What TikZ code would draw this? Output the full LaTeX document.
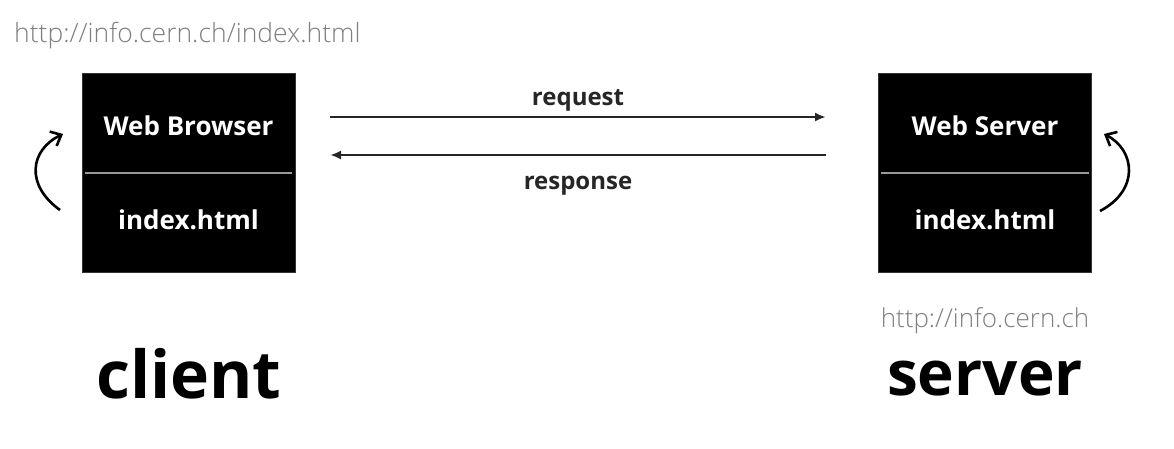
\documentclass[tikz,border=0pt]{standalone}
\usepackage{fontspec}
\setmainfont{Open Sans}
\newfontfamily\urlfont{Open Sans Light}
\usetikzlibrary{arrows.meta}
\begin{document}
\begin{tikzpicture}[x=1pt,y=-1pt,
  box/.style={draw=black!80,fill=black,minimum width=213pt,minimum height=199pt,inner sep=0pt},
  boxlabel/.style={text=white,font=\fontsize{26}{30}\selectfont\bfseries,inner sep=0pt,anchor=base},
  divider/.style={draw=black!40!white,line width=2.2pt},
  msg/.style={draw=black!85,line width=2.2pt,-{Latex[length=11pt,width=9pt]}},
  msglabel/.style={font=\fontsize{24}{28}\selectfont\bfseries,text=black!85,inner sep=0pt,anchor=base},
  url/.style={font=\urlfont,text=black!50,inner sep=0pt,anchor=base},
  role/.style={font=\bfseries,inner sep=0pt,anchor=base},
  loop/.style={draw=black,line width=2.6pt,-{Straight Barb[length=9pt,width=16pt,line width=2.6pt]}}]
\useasboundingbox[fill=white] (0,0) rectangle (1174,448);

% client side
\node[box] (browser) at (188.5,172.5) {};
\node[boxlabel] (bname) at (188.5,135) {Web Browser};
\node[boxlabel] (bfile) at (188.5,229) {index.html};
\draw[divider] ([xshift=3pt]browser.west |- 0,173) -- ([xshift=-3pt]browser.east |- 0,173);
\node[url,anchor=base west,font=\urlfont\fontsize{26.5}{31}\selectfont] (curl) at (14,42) {http://info.cern.ch/index.html};
\node[role,font=\bfseries\fontsize{66}{72}\selectfont] (client) at (189,398) {client};

% server side
\node[box] (server) at (985,172.5) {};
\node[boxlabel] (sname) at (985,135) {Web Server};
\node[boxlabel] (sfile) at (985,229) {index.html};
\draw[divider] ([xshift=3pt]server.west |- 0,173) -- ([xshift=-3pt]server.east |- 0,173);
\node[url,font=\urlfont\fontsize{26}{30}\selectfont] (surl) at (985,327) {http://info.cern.ch};
\node[role,font=\bfseries\fontsize{62}{68}\selectfont] (srole) at (985,395) {server};

% request / response
\coordinate (rqa) at (330,117);
\coordinate (rqb) at (826,117);
\coordinate (rsa) at (826,155);
\coordinate (rsb) at (330,155);
\draw[msg] (rqa) -- (rqb);
\draw[msg] (rsa) -- (rsb);
\node[msglabel] (rqlabel) at (578,105) {request};
\node[msglabel] (rslabel) at (578,189) {response};

% reload loops
\coordinate (cl1) at (60,210);
\coordinate (cl2) at (63,134);
\draw[loop] (cl1) .. controls (25,185) and (30,150) .. (cl2);
\coordinate (sl1) at (1100,211);
\coordinate (sl2) at (1104,134);
\draw[loop] (sl1) .. controls (1140,190) and (1135,150) .. (sl2);
\end{tikzpicture}
\end{document}
